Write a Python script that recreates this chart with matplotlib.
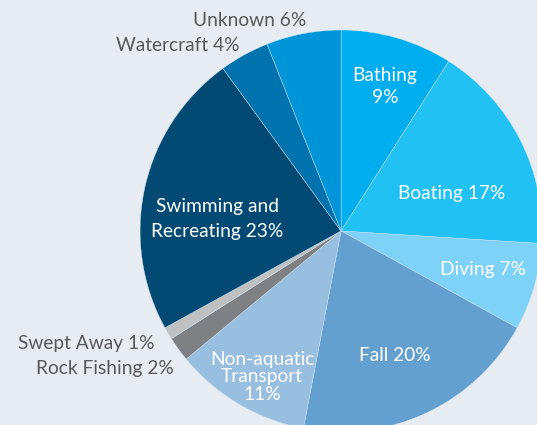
import matplotlib.pyplot as plt

# Drowning deaths by activity
activities = ['Bathing', 'Boating', 'Diving', 'Fall', 'Non-aquatic\nTransport',
              'Rock Fishing', 'Swept Away', 'Swimming and\nRecreating',
              'Watercraft', 'Unknown']
shares = [9, 17, 7, 20, 11, 2, 1, 23, 4, 6]

colors = ['#00adef', '#21c1f3', '#7fd2f7', '#63a0cf', '#98bfdf',
          '#7f8083', '#bfc0c2', '#024a73', '#0072ad', '#0094d8']

# label anchors (data units, pie radius = 1)
label_pos = [(0.219, 0.721), (0.552, 0.189), (0.706, -0.194), (0.269, -0.622),
             (-0.393, -0.726), (-0.831, -0.682), (-0.930, -0.562),
             (-0.617, 0.060), (-0.507, 0.925), (-0.174, 1.045)]
inside = [True, True, True, True, True, False, False, True, False, False]
# labels that keep the number on its own line
pct_newline = [True, False, False, False, True, False, False, False, False, False]
line_gap = [1.35, 1.2, 1.2, 1.2, 1.05, 1.2, 1.2, 1.55, 1.2, 1.2]

bg = '#e7ecf3'
plt.rcParams['font.family'] = ['Lato', 'DejaVu Sans']

fig = plt.figure(figsize=(5.37, 4.25), dpi=100, facecolor=bg)
ax = fig.add_axes([0, 0, 1, 1])
ax.set_facecolor(bg)

ax.pie(shares, colors=colors, startangle=90, counterclock=False,
       radius=1, wedgeprops=dict(edgecolor='#cfe3f2', linewidth=0.3))

for name, val, (x, y), ins, nl, ls in zip(activities, shares, label_pos,
                                          inside, pct_newline, line_gap):
    sep = '\n' if nl else ' '
    text = f'{name}{sep}{val}%'
    if ins:
        ax.text(x, y, text, ha='center', va='center', color='white',
                fontsize=13.8, linespacing=ls)
    else:
        ax.text(x, y, text, ha='right', va='center', color='#595959',
                fontsize=13.8)

ax.set_xlim(-1.697, 0.975)
ax.set_ylim(-0.965, 1.149)
ax.set_aspect('equal')
ax.axis('off')

fig.savefig('out.png', dpi=100, facecolor=bg)
